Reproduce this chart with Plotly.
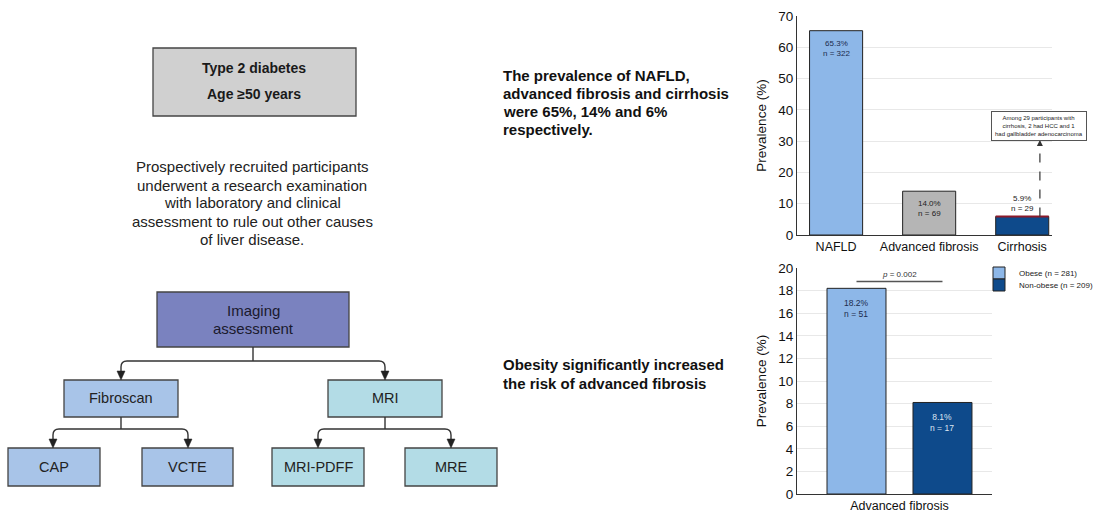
import plotly.graph_objects as go

W, H = 1097, 514
FONT = "Liberation Sans, Arial, sans-serif"

# ---------------- data ----------------
categories = ["NAFLD", "Advanced fibrosis", "Cirrhosis"]
prevalence = [65.3, 14.0, 5.9]
counts = [322, 69, 29]
bar_colors = ["#8db7e8", "#b5b5b5", "#0e4a8b"]
label_colors = ["#1b2b4d", "#222222", "#222222"]

obesity_groups = ["Obese (n = 281)", "Non-obese (n = 209)"]
obesity_prev = [18.2, 8.1]
obesity_counts = [51, 17]
obesity_colors = ["#8db7e8", "#0e4a8b"]
obesity_label_colors = ["#1b2b4d", "#dde6f2"]
obesity_category = "Advanced fibrosis"
p_value_text = "<i>p</i> = 0.002"

top_yticks = [0, 10, 20, 30, 40, 50, 60, 70]
bottom_yticks = [0, 2, 4, 6, 8, 10, 12, 14, 16, 18, 20]

cirrhosis_note = ["Among 29 participants with", "cirrhosis, 2 had HCC and 1",
                  "had gallbladder adenocarcinoma"]

inclusion_lines = ["Type 2 diabetes", "Age \u226550 years"]
method_lines = ["Prospectively recruited participants",
                "underwent a research examination",
                "with laboratory and clinical",
                "assessment to rule out other causes",
                "of liver disease."]
finding1_lines = ["The prevalence of NAFLD,", "advanced fibrosis and cirrhosis",
                  "were 65%, 14% and 6%", "respectively."]
finding2_lines = ["Obesity significantly increased", "the risk of advanced fibrosis"]

# ---------------- helpers ----------------
def X(px):
    return px / W

def Y(py):
    return 1 - py / H

def P(x, y):
    return f"{X(x):.5f},{Y(y):.5f}"

fig = go.Figure()

top_w = 0.57
fig.add_trace(go.Bar(
    x=list(range(len(categories))), y=prevalence, width=top_w,
    marker=dict(color=bar_colors, line=dict(color="#222222", width=1)),
    showlegend=False, hoverinfo="skip", xaxis="x", yaxis="y"))

bot_w = 0.686
legend_names = ["legend", "legend2"]
for i, g in enumerate(obesity_groups):
    fig.add_trace(go.Bar(
        x=[i], y=[obesity_prev[i]], width=bot_w, name=g, legend=legend_names[i],
        marker=dict(color=obesity_colors[i], line=dict(color="#222222", width=1)),
        hoverinfo="skip", xaxis="x2", yaxis="y2"))

shapes = []
annotations = []

# cirrhosis red top line
ci = 2
shapes.append(dict(type="line", xref="x", yref="y", x0=ci - top_w / 2, x1=ci + top_w / 2,
                   y0=prevalence[ci], y1=prevalence[ci], line=dict(color="#8b1a2b", width=2)))

# bar labels top chart
for i, (v, n) in enumerate(zip(prevalence, counts)):
    inside = i < 2
    annotations.append(dict(
        x=i, y=v, xref="x", yref="y", showarrow=False, xanchor="center",
        text=f"{v:.1f}%<br>n = {n}", font=dict(size=8, color=label_colors[i], family=FONT),
        yanchor="top" if inside else "bottom", yshift=-6 if inside else 2))

# bar labels bottom chart
for i, (v, n) in enumerate(zip(obesity_prev, obesity_counts)):
    annotations.append(dict(
        x=i, y=v, xref="x2", yref="y2", showarrow=False, xanchor="center",
        text=f"{v:.1f}%<br>n = {n}", font=dict(size=8.5, color=obesity_label_colors[i], family=FONT),
        yanchor="top", yshift=-8))

# p-value bracket
p_y = 18.8
shapes.append(dict(type="line", xref="x2", yref="y2", x0=0, x1=1, y0=p_y, y1=p_y,
                   line=dict(color="#555555", width=1.5)))
annotations.append(dict(x=0.5, y=p_y, xref="x2", yref="y2", showarrow=False, xanchor="center",
                        text=p_value_text, font=dict(size=8, color="#333333", family=FONT),
                        yanchor="bottom", yshift=1))

# cirrhosis note with dashed arrow
arrow_x = ci + 0.19
note_bottom = 30.4
shapes.append(dict(type="line", xref="x", yref="y", x0=arrow_x, x1=arrow_x,
                   y0=prevalence[ci], y1=note_bottom - 1.5,
                   line=dict(color="#333333", width=1.2, dash="dash")))
annotations.append(dict(x=arrow_x, y=note_bottom, xref="x", yref="y", text="",
                        showarrow=True, arrowhead=2, arrowsize=1, arrowwidth=1.2,
                        arrowcolor="#333333", ax=0, ay=7))
annotations.append(dict(x=X(1039), y=Y(126), xref="paper", yref="paper", showarrow=False,
                        xanchor="center", yanchor="middle",
                        text="<br>".join(cirrhosis_note),
                        font=dict(size=6, color="#222222", family=FONT),
                        bordercolor="#555555", borderwidth=1, borderpad=3, bgcolor="white"))

# ---------------- left flowchart ----------------
boxes = [
    (153, 48, 356, 116, "#d0d0d0"),
    (157, 292, 349, 347, "#7a82bf"),
    (64, 380, 178, 417, "#a8c4e8"),
    (328, 380, 442, 417, "#b3dce6"),
    (8, 448, 100, 486, "#a8c4e8"),
    (142, 448, 233, 486, "#a8c4e8"),
    (272, 448, 364, 486, "#b3dce6"),
    (405, 448, 497, 486, "#b3dce6"),
]
for x0, y0, x1, y1, c in boxes:
    shapes.append(dict(type="rect", xref="paper", yref="paper", x0=X(x0), x1=X(x1),
                       y0=Y(y1), y1=Y(y0), fillcolor=c, line=dict(color="#444444", width=1.3)))

def connector(xs, ystem0, ybus, xl, xr, ytip, r=6):
    paths = [f"M {P(xs, ystem0)} L {P(xs, ybus)}",
             f"M {P(xl, ytip - 8)} L {P(xl, ybus + r)} Q {P(xl, ybus)} {P(xl + r, ybus)} "
             f"L {P(xr - r, ybus)} Q {P(xr, ybus)} {P(xr, ybus + r)} L {P(xr, ytip - 8)}"]
    for p in paths:
        shapes.append(dict(type="path", xref="paper", yref="paper", path=p,
                           line=dict(color="#333333", width=1.4)))
    for xa in (xl, xr):
        shapes.append(dict(type="path", xref="paper", yref="paper",
                           path=f"M {P(xa - 4, ytip - 9)} L {P(xa + 4, ytip - 9)} L {P(xa, ytip)} Z",
                           fillcolor="#222222", line=dict(color="#222222", width=0.5)))

connector(253, 347, 361, 121, 385, 380)
connector(121, 417, 429, 53, 188, 448)
connector(385, 417, 429, 318, 451, 448)

def text(x, y, s, size, bold=False, color="#1a1a1a", anchor="center"):
    annotations.append(dict(x=X(x), y=Y(y), xref="paper", yref="paper", showarrow=False,
                            text=f"<b>{s}</b>" if bold else s, xanchor=anchor, yanchor="middle",
                            font=dict(size=size, color=color, family=FONT)))

text(254, 68, inclusion_lines[0], 14, bold=True)
text(254, 94, inclusion_lines[1], 14, bold=True)
for k, s in enumerate(method_lines):
    text(252, 167 + 18 * k, s, 15, color="#222222")
text(253, 310, "Imaging", 15, color="#1a1a2e")
text(253, 328, "assessment", 15, color="#1a1a2e")
for s, x in [("Fibroscan", 121), ("MRI", 385)]:
    text(x, 398, s, 14.5, color="#222222")
for s, x in [("CAP", 54), ("VCTE", 187), ("MRI-PDFF", 318), ("MRE", 451)]:
    text(x, 467, s, 14.5, color="#222222")
for k, s in enumerate(finding1_lines):
    text(501, 75 + 18.3 * k, s, 15, bold=True, color="#111111", anchor="left")
for k, s in enumerate(finding2_lines):
    text(501, 364 + 19 * k, s, 15, bold=True, color="#111111", anchor="left")

axis_common = dict(showline=True, linecolor="#333333", linewidth=1, ticks="",
                   fixedrange=True, zeroline=False, automargin=False)

legend_common = dict(xanchor="left", yanchor="middle", bgcolor="rgba(0,0,0,0)",
                     font=dict(size=8, color="#222222"), itemwidth=30)

fig.update_layout(
    width=W, height=H, margin=dict(l=0, r=0, t=0, b=0, autoexpand=False),
    paper_bgcolor="white", plot_bgcolor="white", barmode="overlay",
    font=dict(family=FONT, color="#222222"), hovermode=False,
    xaxis=dict(domain=[X(797), X(1052)], range=[-0.42, 2.32], tickvals=list(range(len(categories))),
               ticktext=categories, showgrid=False, anchor="y",
               tickfont=dict(size=12.5, color="#111111"), **axis_common),
    yaxis=dict(domain=[Y(235), Y(16)], range=[0, 70], tickvals=top_yticks, showgrid=True,
               gridcolor="#e8e8e8", anchor="x", tickfont=dict(size=13.5, color="#111111"),
               title=dict(text="Prevalence (%)", font=dict(size=13.5, color="#111111"), standoff=8),
               **axis_common),
    xaxis2=dict(domain=[X(797), X(992)], range=[-0.692, 1.576], tickvals=[0.5],
                ticktext=[obesity_category], showgrid=False, anchor="y2",
                tickfont=dict(size=12.5, color="#111111"), **axis_common),
    yaxis2=dict(domain=[Y(494), Y(268)], range=[0, 20], tickvals=bottom_yticks, showgrid=True,
                gridcolor="#e8e8e8", anchor="x2", tickfont=dict(size=13.5, color="#111111"),
                title=dict(text="Prevalence (%)", font=dict(size=13.5, color="#111111"), standoff=8),
                **axis_common),
    legend=dict(x=X(979), y=Y(273), **legend_common),
    legend2=dict(x=X(979), y=Y(285), **legend_common),
    shapes=shapes, annotations=annotations,
)

fig.write_html("out.html", config={"staticPlot": True},
               post_script="document.body.style.margin='0px';document.body.style.overflow='hidden';")
